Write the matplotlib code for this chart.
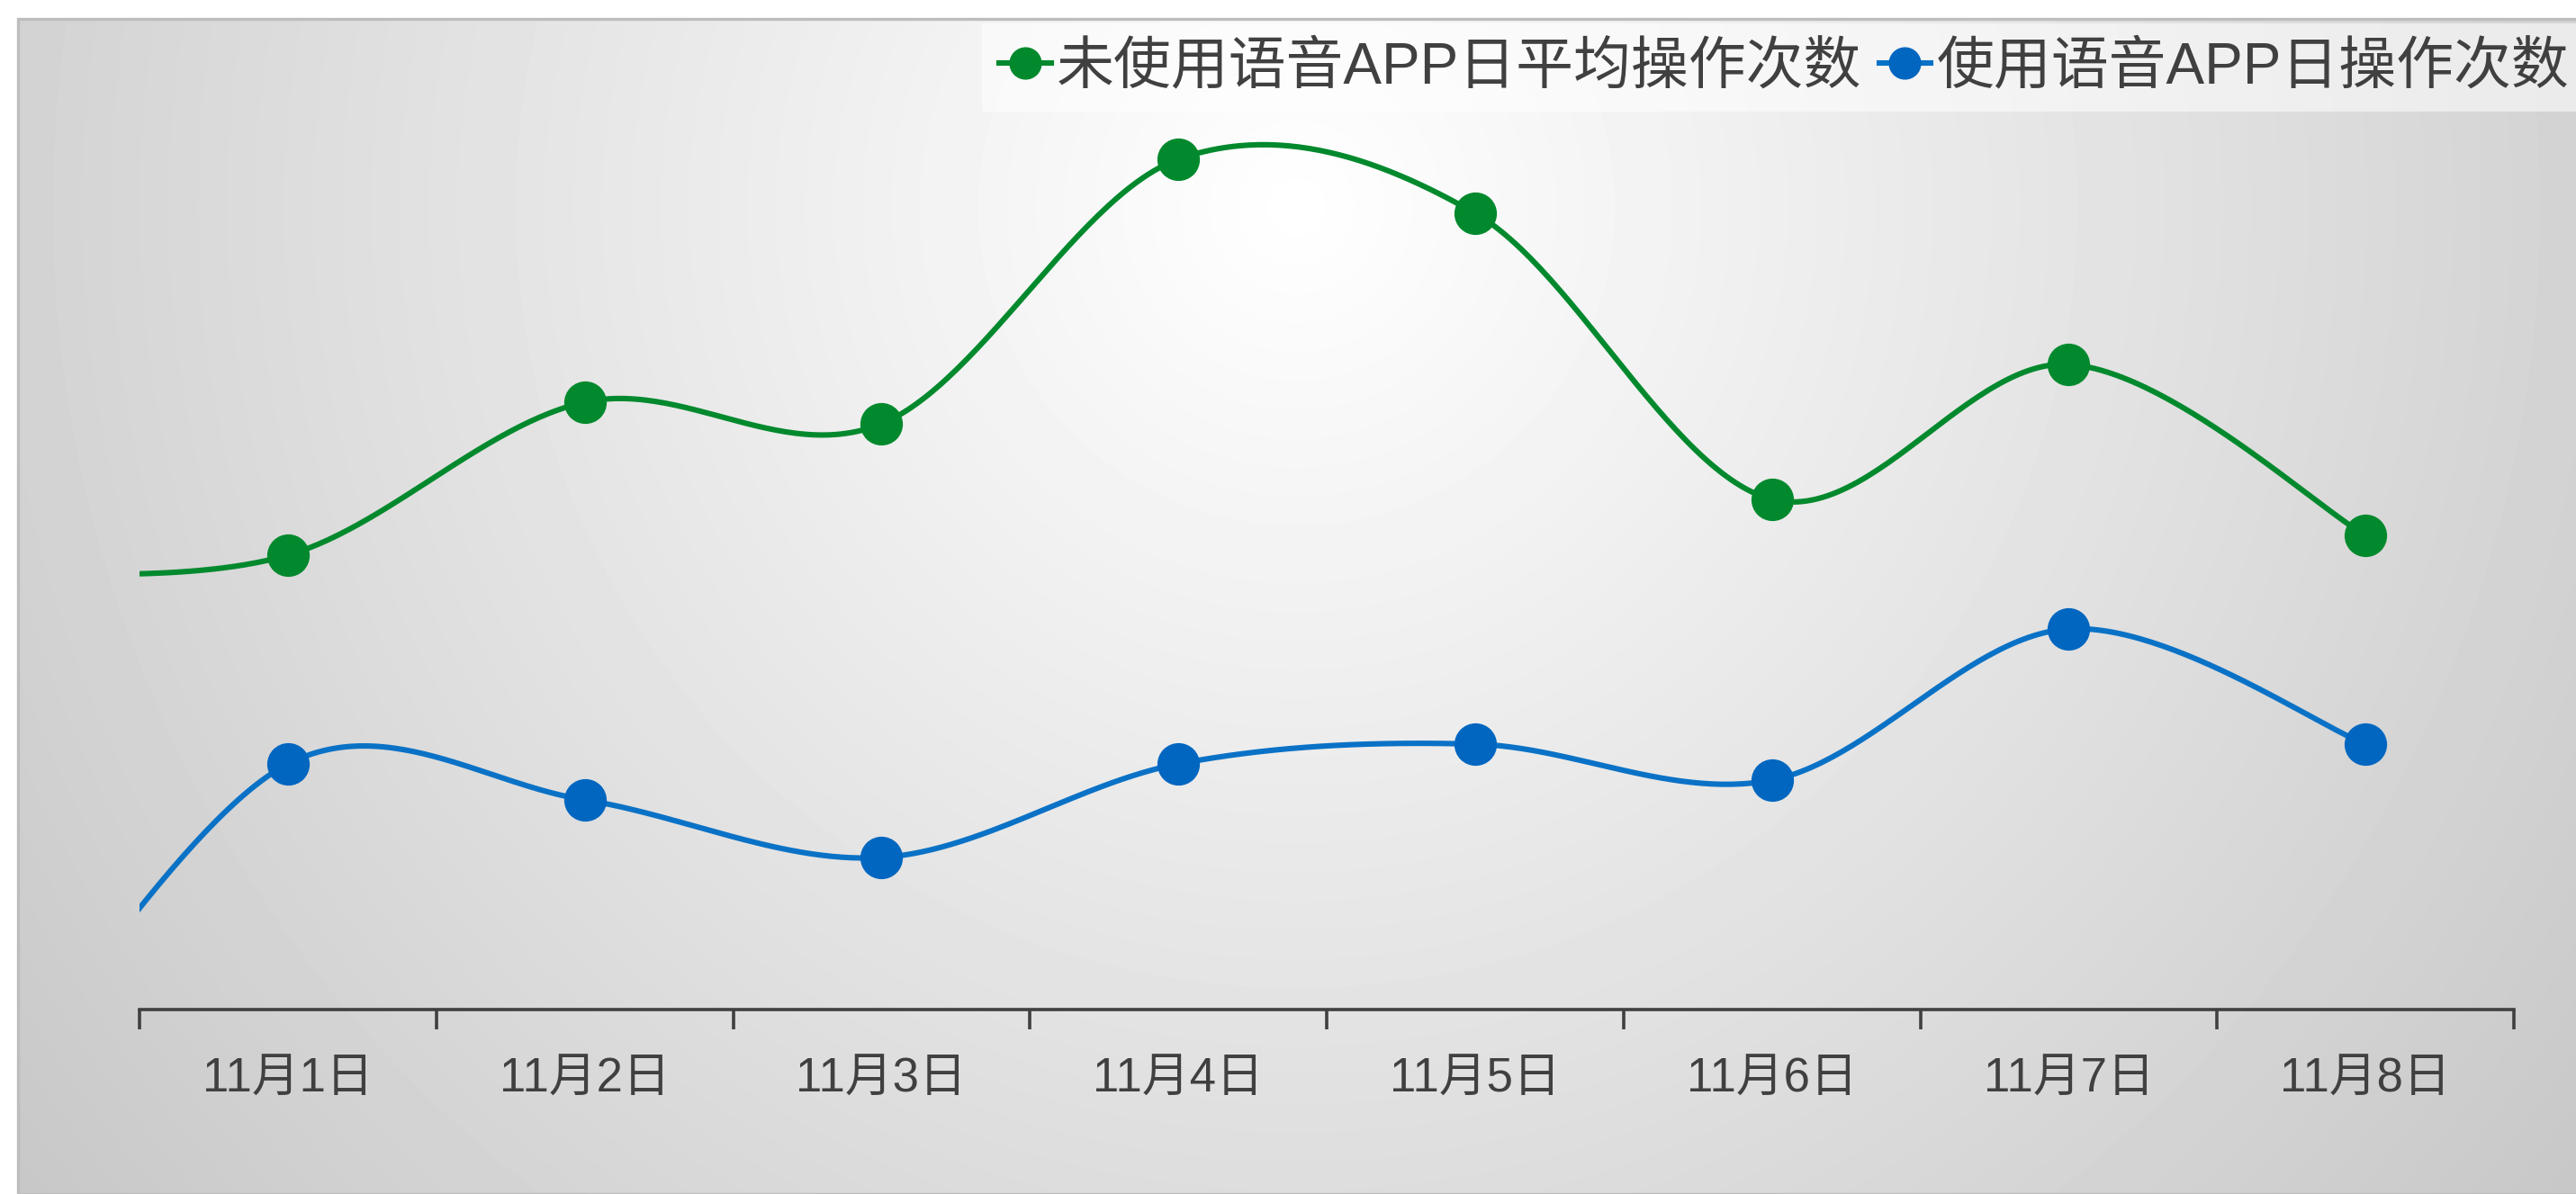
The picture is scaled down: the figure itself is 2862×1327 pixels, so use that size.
import matplotlib
matplotlib.use("Agg")
import matplotlib.pyplot as plt
import numpy as np
from matplotlib.lines import Line2D
from matplotlib.patches import Rectangle

plt.rcParams["font.family"] = ["Liberation Sans", "Noto Sans CJK SC", "DejaVu Sans"]

# data (10月31日 is off the visible axis, only its curve segment shows at the left)
dates = ["11月1日", "11月2日", "11月3日", "11月4日", "11月5日", "11月6日", "11月7日", "11月8日"]
prev_green = 68.4
prev_blue = 9.5
green_vals = [70.5, 87.5, 85.1, 114.5, 108.5, 76.7, 91.7, 72.7]
blue_vals = [47.3, 43.3, 36.9, 47.3, 49.5, 45.5, 62.3, 49.5]
green_name = "未使用语音APP日平均操作次数"
blue_name = "使用语音APP日操作次数"

GREEN = "#02892D"
BLUE_LINE = "#0A72C6"
BLUE = "#0066C0"
TEXT = "#404040"

W, H, DPI = 2862, 1327, 200


def smooth(xs, ys, n=60):
    # catmull-rom style bezier, like the office "smoothed line"
    xs = np.asarray(xs, float)
    ys = np.asarray(ys, float)
    px = np.concatenate([[xs[0]], xs, [xs[-1]]])
    py = np.concatenate([[ys[0]], ys, [ys[-1]]])
    outx, outy = [], []
    t = np.linspace(0, 1, n)[:, None]
    for i in range(1, len(px) - 2):
        p0 = np.array([px[i], py[i]])
        p3 = np.array([px[i + 1], py[i + 1]])
        c1 = p0 + (np.array([px[i + 1], py[i + 1]]) - np.array([px[i - 1], py[i - 1]])) / 6
        c2 = p3 - (np.array([px[i + 2], py[i + 2]]) - np.array([px[i], py[i]])) / 6
        b = ((1 - t) ** 3) * p0 + 3 * ((1 - t) ** 2) * t * c1 + 3 * (1 - t) * t ** 2 * c2 + t ** 3 * p3
        outx.append(b[:, 0])
        outy.append(b[:, 1])
    return np.concatenate(outx), np.concatenate(outy)


fig = plt.figure(figsize=(W / DPI, H / DPI), dpi=DPI)
fig.patch.set_facecolor("white")

# radial gradient background of the chart area
fx0, fy_top = 20, 21
ax_bg = fig.add_axes([fx0 / W, 0, 1 - fx0 / W, (H - fy_top) / H])
yy, xx = np.mgrid[fy_top:H, fx0:W]
d = np.hypot(xx - 1440, yy - 230)
shade = np.clip(255 - 0.031 * d, 0, 255) / 255
ax_bg.imshow(shade, cmap="gray", vmin=0, vmax=1, aspect="auto", interpolation="bilinear")
ax_bg.axis("off")
fig.patches.append(Rectangle((fx0 / W, 0), 1 - fx0 / W + 0.01, (H - fy_top) / H,
                             transform=fig.transFigure, fill=False,
                             edgecolor="#bdbdbd", linewidth=1.2, zorder=1))

ax = fig.add_axes([155 / W, 205 / H, (2793 - 155) / W, 1000 / H])
ax.set_facecolor("none")

x = np.arange(len(dates))
gx, gy = smooth(np.concatenate([[-1], x]), [prev_green] + green_vals)
bx, by = smooth(np.concatenate([[-1], x]), [prev_blue] + blue_vals)
ax.plot(gx, gy, color=GREEN, lw=2.2, solid_capstyle="butt", zorder=3)
ax.plot(bx, by, color=BLUE_LINE, lw=2.2, solid_capstyle="butt", zorder=3)
ax.plot(x, green_vals, "o", color=GREEN, ms=16, mec=GREEN, zorder=4)
ax.plot(x, blue_vals, "o", color=BLUE, ms=16, mec=BLUE, zorder=4)

ax.set_xlim(-0.5, len(dates) - 0.5)
ax.set_ylim(20, 120)
for s in ["top", "right", "left"]:
    ax.spines[s].set_visible(False)
ax.spines["bottom"].set_color(TEXT)
ax.spines["bottom"].set_linewidth(1.3)
ax.set_yticks([])
ax.set_xticks(np.arange(-0.5, len(dates), 1.0))
ax.set_xticklabels([])
ax.set_xticks(x, minor=True)
ax.set_xticklabels(dates, minor=True, fontsize=19, color=TEXT)
ax.tick_params(axis="x", which="major", length=8, width=1.3, color=TEXT, direction="out")
ax.tick_params(axis="x", which="minor", length=0, pad=19)

handles = [
    Line2D([], [], color=GREEN, lw=2.2, marker="o", ms=12, label=green_name),
    Line2D([], [], color=BLUE_LINE, lw=2.2, marker="o", ms=12, mfc=BLUE, mec=BLUE, label=blue_name),
]
leg = fig.legend(handles=handles, loc="upper right", bbox_to_anchor=(1.004, 1 - 26 / H),
                 ncol=2, fontsize=23, frameon=True, handlelength=0.9, handletextpad=0.1,
                 columnspacing=0.3, borderpad=0.3, borderaxespad=0, fancybox=False)
leg.get_frame().set_facecolor("white")
leg.get_frame().set_alpha(0.55)
leg.get_frame().set_edgecolor("none")
for t in leg.get_texts():
    t.set_color(TEXT)

fig.savefig("out.png", dpi=DPI)
